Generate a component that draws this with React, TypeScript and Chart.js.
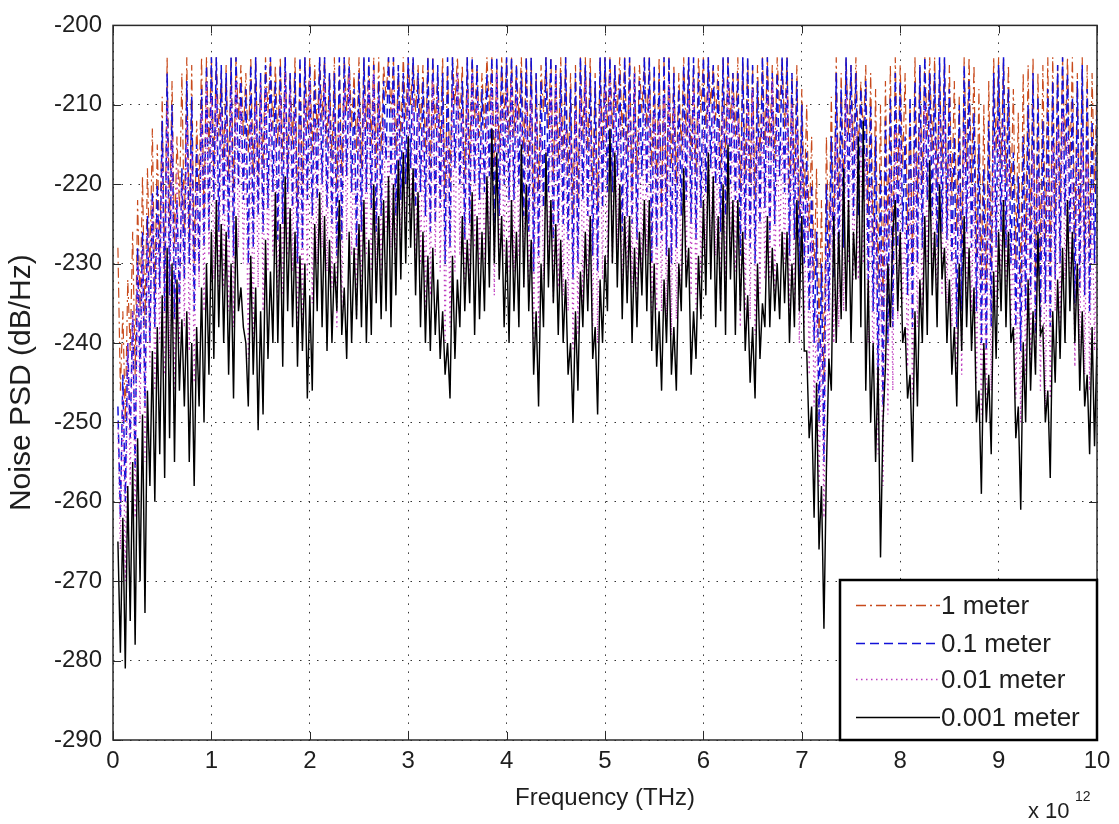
import React, { useEffect, useRef } from 'react';
import Chart from 'chart.js/auto';

// sampling grid of the PSD curves (THz): first reading and spacing
const freqStartTHz = 0.05;
const freqStepTHz = 0.025;

const seriesLabels = ['1 meter', '0.1 meter', '0.01 meter', '0.001 meter'];
const seriesColors = ['#c84a1c', '#1212d8', '#c040c0', '#000000'];
const seriesDash = [[10, 4, 2, 4], [9, 5], [1.5, 3.5], []];
const seriesWidth = [1.2, 1.5, 1.3, 1.45];

const xTickLabels = ['0', '1', '2', '3', '4', '5', '6', '7', '8', '9', '10'];
const yTickLabels = ['-290', '-280', '-270', '-260', '-250', '-240', '-230', '-220', '-210', '-200'];

// noise PSD in dB/Hz, one row per THz (40 readings each)
const psd1m = [
  -228, -246, -236, -250, -232, -241, -226, -244, -222, -236, -219, -238, -218, -231, -213, -234, -215, -229, -209, -232,
  -204, -225, -207, -228, -214, -223, -206, -226, -204, -227, -205, -230, -212, -221, -204, -224, -204, -216, -204, -218,
  -204, -214, -206, -217, -205, -219, -204, -221, -204, -212, -205, -214, -206, -216, -204, -219, -204, -220, -207, -218,
  -204, -211, -204, -213, -205, -215, -204, -217, -204, -218, -206, -215, -204, -223, -205, -220, -204, -213, -204, -216,
  -205, -214, -204, -212, -204, -215, -206, -217, -204, -221, -205, -219, -204, -211, -204, -213, -206, -216, -204, -218,
  -204, -213, -205, -215, -204, -218, -204, -216, -205, -209, -204, -211, -204, -216, -205, -214, -204, -212, -204, -210,
  -204, -211, -205, -213, -205, -216, -204, -218, -204, -213, -206, -215, -204, -222, -205, -220, -204, -210, -204, -212,
  -205, -219, -204, -217, -204, -212, -205, -214, -206, -213, -204, -211, -204, -218, -205, -216, -204, -212, -204, -214,
  -204, -214, -205, -212, -204, -216, -204, -218, -204, -223, -206, -221, -205, -211, -204, -213, -204, -219, -205, -217,
  -204, -217, -204, -219, -206, -224, -205, -222, -204, -214, -204, -216, -204, -221, -206, -223, -204, -215, -204, -213,
  -204, -213, -205, -211, -204, -214, -204, -216, -204, -221, -205, -219, -205, -211, -204, -213, -204, -218, -206, -220,
  -204, -223, -204, -221, -204, -218, -205, -220, -206, -216, -204, -214, -204, -217, -205, -219, -204, -211, -204, -213,
  -204, -210, -205, -212, -205, -218, -204, -216, -204, -212, -206, -214, -204, -221, -204, -219, -204, -220, -205, -222,
  -205, -217, -204, -215, -204, -215, -205, -217, -204, -211, -204, -213, -204, -221, -206, -219, -205, -224, -208, -222,
  -210, -226, -214, -232, -218, -240, -222, -245, -214, -229, -209, -226, -204, -222, -206, -220, -204, -214, -205, -216,
  -204, -216, -207, -214, -205, -224, -206, -228, -208, -233, -210, -236, -207, -227, -205, -230, -204, -220, -205, -218,
  -206, -226, -210, -230, -204, -222, -205, -220, -204, -214, -204, -216, -204, -220, -206, -218, -204, -224, -205, -222,
  -207, -226, -209, -228, -204, -218, -204, -220, -205, -229, -208, -232, -210, -233, -207, -230, -204, -216, -204, -218,
  -204, -220, -205, -222, -208, -230, -211, -233, -206, -228, -205, -226, -204, -231, -206, -229, -205, -227, -204, -230,
  -204, -224, -205, -222, -204, -216, -204, -218, -204, -227, -206, -225, -204, -230, -205, -228, -206, -221, -207, -224,
];

const psd01m = [
  -248, -262, -244, -260, -240, -252, -236, -256, -228, -244, -226, -248, -224, -240, -221, -238, -220, -233, -212, -236,
  -206, -234, -210, -237, -222, -235, -218, -232, -207, -230, -209, -236, -215, -231, -208, -228, -205, -226, -204, -222,
  -204, -226, -205, -224, -206, -227, -204, -229, -204, -220, -207, -222, -208, -230, -205, -228, -204, -224, -206, -226,
  -205, -223, -204, -221, -207, -227, -205, -225, -204, -221, -206, -223, -206, -230, -204, -228, -204, -222, -205, -224,
  -207, -222, -204, -220, -204, -223, -206, -225, -206, -229, -204, -227, -204, -219, -205, -221, -208, -228, -206, -226,
  -204, -221, -204, -223, -205, -226, -207, -224, -207, -217, -204, -219, -204, -224, -205, -222, -206, -220, -204, -218,
  -204, -223, -206, -221, -207, -224, -204, -226, -204, -225, -205, -223, -206, -230, -204, -228, -204, -218, -206, -220,
  -207, -227, -204, -225, -204, -220, -205, -222, -208, -221, -206, -219, -204, -226, -204, -224, -205, -220, -204, -222,
  -204, -222, -205, -220, -206, -224, -204, -226, -204, -231, -206, -229, -207, -223, -204, -221, -204, -227, -205, -225,
  -206, -225, -204, -227, -208, -232, -206, -230, -204, -222, -205, -224, -206, -229, -207, -231, -204, -223, -204, -221,
  -204, -221, -205, -219, -206, -226, -204, -224, -204, -225, -206, -227, -207, -219, -204, -221, -204, -230, -205, -228,
  -206, -227, -204, -229, -204, -230, -206, -228, -208, -224, -205, -222, -204, -225, -204, -227, -206, -223, -204, -221,
  -204, -218, -205, -220, -207, -226, -204, -224, -204, -220, -206, -222, -206, -229, -204, -227, -204, -228, -205, -230,
  -207, -225, -204, -223, -204, -227, -206, -225, -206, -219, -204, -221, -204, -229, -206, -227, -207, -232, -210, -230,
  -216, -236, -220, -240, -226, -250, -230, -255, -220, -236, -214, -232, -206, -230, -208, -228, -204, -222, -205, -224,
  -206, -224, -208, -222, -207, -232, -210, -236, -214, -244, -218, -248, -212, -240, -209, -238, -206, -228, -207, -226,
  -214, -234, -209, -238, -207, -230, -205, -228, -204, -222, -206, -224, -206, -228, -204, -226, -204, -227, -208, -230,
  -214, -238, -210, -236, -205, -226, -207, -228, -211, -236, -215, -240, -218, -241, -212, -238, -206, -228, -205, -226,
  -204, -228, -208, -230, -216, -238, -219, -241, -214, -236, -210, -234, -206, -239, -209, -237, -212, -235, -208, -238,
  -207, -232, -205, -230, -204, -224, -206, -226, -209, -235, -207, -233, -205, -234, -208, -236, -212, -230, -210, -232,
];

const psd001m = [
  -250, -266, -246, -270, -240, -258, -236, -262, -230, -250, -228, -255, -226, -243, -222, -246, -224, -240, -216, -244,
  -210, -242, -214, -246, -218, -240, -220, -238, -212, -241, -216, -245, -220, -233, -211, -236, -207, -229, -209, -232,
  -209, -235, -211, -233, -212, -236, -208, -238, -207, -228, -210, -230, -214, -242, -212, -240, -210, -233, -207, -236,
  -208, -231, -211, -229, -213, -236, -209, -234, -206, -229, -208, -231, -211, -239, -213, -237, -209, -232, -207, -235,
  -212, -230, -209, -228, -207, -231, -210, -233, -211, -238, -213, -236, -208, -227, -206, -229, -214, -237, -211, -235,
  -209, -229, -207, -231, -206, -234, -209, -232, -212, -226, -214, -228, -208, -232, -210, -230, -211, -228, -208, -226,
  -209, -232, -211, -230, -213, -236, -210, -234, -207, -229, -209, -231, -212, -240, -214, -238, -208, -231, -206, -229,
  -211, -235, -208, -233, -206, -228, -209, -230, -213, -230, -211, -228, -208, -234, -206, -232, -210, -229, -208, -231,
  -207, -231, -209, -229, -212, -233, -210, -235, -209, -240, -211, -238, -213, -232, -215, -230, -208, -235, -206, -233,
  -211, -234, -213, -236, -214, -241, -211, -239, -209, -236, -207, -234, -212, -238, -214, -240, -210, -232, -208, -230,
  -206, -230, -208, -228, -211, -234, -213, -232, -208, -233, -206, -235, -213, -231, -210, -229, -209, -238, -211, -236,
  -212, -236, -209, -238, -207, -239, -210, -237, -214, -233, -212, -231, -209, -234, -207, -236, -211, -232, -213, -230,
  -208, -231, -210, -229, -213, -235, -211, -233, -207, -229, -209, -231, -212, -238, -214, -236, -210, -237, -208, -239,
  -214, -234, -211, -232, -209, -232, -207, -234, -212, -228, -214, -230, -208, -238, -210, -236, -213, -240, -216, -238,
  -220, -244, -226, -248, -236, -258, -240, -262, -228, -243, -222, -240, -214, -238, -217, -236, -209, -230, -211, -232,
  -213, -232, -214, -230, -216, -240, -220, -244, -224, -254, -228, -258, -222, -249, -218, -246, -213, -237, -215, -235,
  -224, -243, -220, -247, -216, -238, -213, -236, -210, -230, -212, -232, -214, -236, -211, -234, -211, -235, -216, -238,
  -224, -246, -220, -244, -213, -234, -216, -236, -220, -245, -224, -249, -226, -248, -220, -246, -214, -236, -212, -234,
  -212, -235, -217, -238, -226, -247, -229, -250, -224, -244, -220, -242, -216, -243, -219, -246, -221, -249, -218, -247,
  -215, -236, -213, -238, -211, -232, -214, -234, -218, -243, -216, -241, -214, -244, -217, -246, -220, -241, -222, -243,
];

const psd0001m = [
  -265, -279, -262, -281, -258, -275, -255, -278, -252, -270, -249, -274, -246, -258, -241, -260, -238, -254, -234, -257,
  -228, -252, -230, -255, -232, -246, -237, -248, -236, -255, -240, -258, -238, -248, -233, -250, -230, -244, -226, -242,
  -222, -238, -225, -240, -226, -244, -230, -247, -224, -236, -233, -238, -240, -248, -229, -244, -233, -251, -236, -249,
  -227, -242, -231, -240, -221, -240, -225, -243, -219, -236, -223, -238, -226, -243, -229, -241, -230, -247, -234, -246,
  -225, -236, -221, -238, -224, -241, -227, -240, -230, -236, -222, -239, -233, -242, -226, -240, -228, -237, -225, -238,
  -222, -240, -227, -239, -220, -235, -224, -237, -222, -236, -219, -238, -220, -234, -217, -232, -216, -230, -214, -228,
  -218, -234, -221, -238, -226, -240, -229, -241, -228, -239, -232, -242, -236, -244, -240, -247, -229, -242, -232, -238,
  -224, -236, -227, -235, -221, -239, -224, -237, -226, -236, -219, -233, -213, -230, -216, -232, -224, -238, -227, -240,
  -222, -236, -226, -238, -215, -233, -220, -236, -227, -244, -236, -248, -230, -238, -216, -233, -222, -235, -225, -239,
  -227, -240, -232, -244, -240, -250, -236, -246, -231, -238, -226, -236, -224, -242, -238, -249, -232, -240, -229, -236,
  -213, -230, -216, -233, -220, -237, -224, -235, -224, -240, -228, -238, -226, -234, -222, -236, -222, -241, -230, -243,
  -236, -246, -232, -240, -228, -244, -238, -246, -230, -236, -218, -233, -228, -244, -236, -242, -229, -237, -222, -234,
  -216, -232, -219, -238, -224, -236, -220, -239, -215, -232, -222, -239, -222, -236, -226, -241, -234, -245, -238, -247,
  -230, -242, -235, -238, -224, -238, -228, -236, -230, -237, -226, -235, -226, -240, -230, -238, -222, -236, -224, -241,
  -241, -252, -248, -262, -245, -266, -258, -276, -256, -242, -246, -224, -240, -226, -237, -218, -236, -222, -240, -226,
  -232, -214, -238, -212, -246, -232, -250, -240, -255, -243, -267, -250, -243, -230, -238, -226, -222, -236, -226, -240,
  -238, -247, -244, -255, -236, -248, -232, -240, -224, -239, -217, -234, -226, -238, -220, -232, -228, -240, -232, -244,
  -238, -248, -230, -241, -224, -238, -228, -241, -233, -250, -246, -259, -240, -250, -244, -254, -231, -242, -226, -236,
  -222, -238, -226, -240, -238, -252, -248, -261, -240, -250, -232, -246, -236, -244, -226, -239, -238, -250, -246, -257,
  -236, -245, -232, -242, -228, -240, -222, -236, -226, -240, -230, -246, -236, -248, -244, -254, -238, -253, -240, -250,
];

const seriesValues = [psd1m, psd01m, psd001m, psd0001m];

const FONT = '"Liberation Sans", Arial, Helvetica, sans-serif';
const INK = '#1e1e1e';

// MATLAB-like frame: box, inward ticks, legend box and exponent label
const matlabFrame = {
  id: 'matlabFrame',
  afterDatasetsDraw(chart: any) {
    const { ctx, chartArea: a, scales } = chart;
    ctx.save();
    ctx.setLineDash([]);
    ctx.strokeStyle = '#2a2a2a';
    ctx.lineWidth = 1;
    ctx.beginPath();
    scales.x.ticks.forEach((t: any) => {
      const px = Math.round(scales.x.getPixelForValue(t.value)) + 0.5;
      ctx.moveTo(px, a.bottom);
      ctx.lineTo(px, a.bottom - 8);
      ctx.moveTo(px, a.top);
      ctx.lineTo(px, a.top + 8);
    });
    scales.y.ticks.forEach((t: any) => {
      const py = Math.round(scales.y.getPixelForValue(t.value)) + 0.5;
      ctx.moveTo(a.left, py);
      ctx.lineTo(a.left + 8, py);
      ctx.moveTo(a.right, py);
      ctx.lineTo(a.right - 8, py);
    });
    ctx.stroke();
    ctx.lineWidth = 1.5;
    ctx.strokeRect(a.left, a.top, a.right - a.left, a.bottom - a.top);

    // legend in the lower right corner
    const bw = 257;
    const bh = 160;
    const bx = a.right - bw;
    const by = a.bottom - bh;
    ctx.fillStyle = '#ffffff';
    ctx.fillRect(bx, by, bw, bh);
    ctx.lineWidth = 2.5;
    ctx.strokeStyle = '#000000';
    ctx.strokeRect(bx, by, bw, bh);
    const rows = [25, 63, 99, 137];
    ctx.font = '26px ' + FONT;
    ctx.textBaseline = 'middle';
    ctx.textAlign = 'left';
    chart.data.datasets.forEach((ds: any, i: number) => {
      const y = by + rows[i] + 0.5;
      ctx.beginPath();
      ctx.strokeStyle = ds.borderColor;
      ctx.lineWidth = 1.3;
      ctx.setLineDash(ds.borderDash || []);
      ctx.moveTo(bx + 16, y);
      ctx.lineTo(bx + 100, y);
      ctx.stroke();
      ctx.setLineDash([]);
      ctx.fillStyle = INK;
      ctx.fillText(ds.label, bx + 101, y + 1);
    });

    // x 10^12 exponent under the right end of the axis
    ctx.fillStyle = INK;
    ctx.textBaseline = 'alphabetic';
    ctx.font = '22px ' + FONT;
    ctx.fillText('x 10', a.right - 69, a.bottom + 78);
    ctx.font = '14px ' + FONT;
    ctx.fillText('12', a.right - 22, a.bottom + 61);
    ctx.restore();
  },
};

const PsdChart: React.FC = () => {
  const canvasRef = useRef<HTMLCanvasElement>(null);

  useEffect(() => {
    document.body.style.margin = '0';
    if (!canvasRef.current) return;

    const datasets = seriesValues.map((vals, i) => ({
      label: seriesLabels[i],
      data: vals.map((v, k) => ({ x: freqStartTHz + k * freqStepTHz, y: v })),
      borderColor: seriesColors[i],
      borderDash: seriesDash[i],
      borderWidth: seriesWidth[i],
      pointRadius: 0,
      tension: 0,
      fill: false,
      order: 4 - i,
    }));

    const chart = new Chart(canvasRef.current, {
      type: 'line',
      data: { datasets },
      options: {
        animation: false,
        responsive: true,
        maintainAspectRatio: false,
        layout: { padding: { top: 18, right: 22, left: 0, bottom: 0 } },
        plugins: { legend: { display: false }, tooltip: { enabled: false } },
        scales: {
          x: {
            type: 'linear',
            min: 0,
            max: 10,
            afterFit: (s: any) => { s.height = 84; },
            afterBuildTicks: (s: any) => {
              s.ticks = xTickLabels.map((l) => ({ value: Number(l) }));
            },
            ticks: {
              autoSkip: false,
              maxRotation: 0,
              padding: 7,
              color: INK,
              font: { family: FONT, size: 24 },
              callback: (v: any) => String(v),
            },
            grid: { color: '#333333', lineWidth: 1, drawTicks: false },
            border: { display: false, dash: [1.5, 7] },
            title: {
              display: true,
              text: 'Frequency (THz)',
              color: INK,
              font: { family: FONT, size: 24 },
              padding: { top: 0, bottom: 11 },
            },
          },
          y: {
            type: 'linear',
            min: -290,
            max: -200,
            afterFit: (s: any) => { s.width = 113; },
            afterBuildTicks: (s: any) => {
              s.ticks = yTickLabels.map((l) => ({ value: Number(l) }));
            },
            ticks: {
              autoSkip: false,
              padding: 11,
              color: INK,
              font: { family: FONT, size: 24 },
              callback: (v: any) => String(v),
            },
            grid: { color: '#333333', lineWidth: 1, drawTicks: false },
            border: { display: false, dash: [1.5, 7] },
            title: {
              display: true,
              text: 'Noise PSD (dB/Hz)',
              color: INK,
              font: { family: FONT, size: 30 },
              padding: { top: 4, bottom: 0 },
            },
          },
        },
      },
      plugins: [matlabFrame],
    });

    return () => {
      chart.destroy();
    };
  }, []);

  return (
    <div style={{ position: 'relative', width: '1119px', height: '824px', background: '#ffffff' }}>
      <canvas ref={canvasRef} />
    </div>
  );
};

export default function App() {
  return <PsdChart />;
}
